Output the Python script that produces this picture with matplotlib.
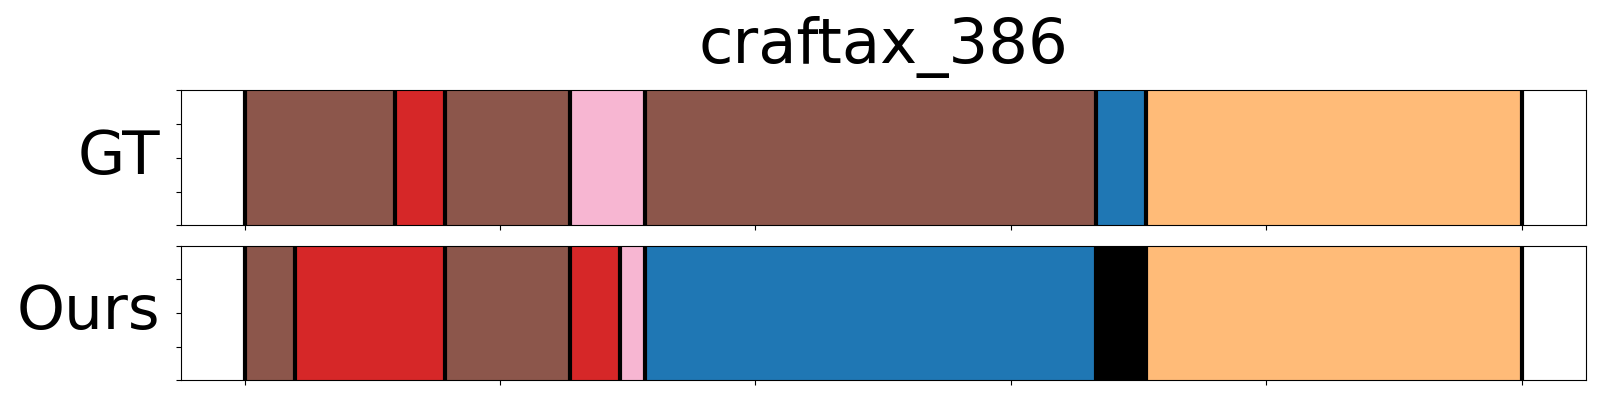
import numpy as np
import matplotlib
matplotlib.use("Agg")
import matplotlib.pyplot as plt

titulo = "craftax_386"
filas = ["GT", "Ours"]
total_frames = 51

# limites de los segmentos (en frames) y su color
limites_gt = [0, 6, 8, 13, 16, 34, 36, 51]
colores_gt = ["#8c564b", "#d62728", "#8c564b", "#f7b6d2", "#8c564b", "#1f77b4", "#ffbb78"]

limites_ours = [0, 2, 8, 13, 15, 16, 34, 36, 51]
colores_ours = ["#8c564b", "#d62728", "#8c564b", "#d62728", "#f7b6d2", "#1f77b4", "#000000", "#ffbb78"]


def dibujar_fila(ax, limites, colores, nombre):
    x = np.array(limites) / total_frames
    for i in range(len(colores)):
        ax.axvspan(x[i], x[i + 1], color=colores[i], lw=0)
    for xi in x:
        ax.axvline(xi, color="black", lw=3)
    ax.set_ylim(0, 1)
    ax.set_yticks(np.linspace(0, 1, 5))
    ax.tick_params(labelleft=False, labelbottom=False)
    ax.set_ylabel(nombre, fontsize=44, rotation=0, ha="right", va="center", labelpad=11.5)


def main():
    fig, axes = plt.subplots(2, 1, figsize=(16, 4), dpi=100, sharex=True)
    fig.subplots_adjust(left=0.113, right=0.991, bottom=0.049, top=0.774, hspace=0.15)

    dibujar_fila(axes[0], limites_gt, colores_gt, filas[0])
    dibujar_fila(axes[1], limites_ours, colores_ours, filas[1])
    axes[1].set_xlim(-0.05, 1.05)
    axes[0].set_title(titulo, fontsize=45, pad=20)

    fig.savefig("out.png", dpi=100)


if __name__ == "__main__":
    main()
